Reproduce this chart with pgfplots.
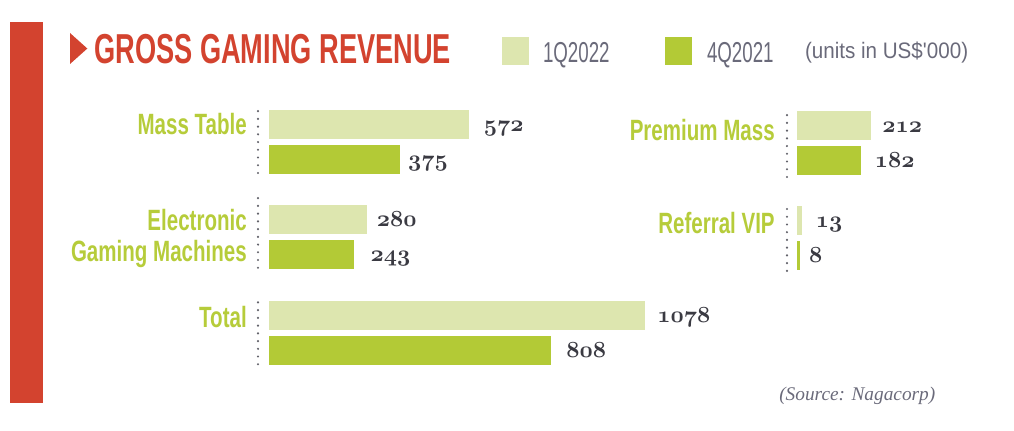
\documentclass[border=0pt]{standalone}
\usepackage{fontspec}
\usepackage{pgfplots}
\pgfplotsset{compat=1.18}
\newfontfamily\titlefont[FakeStretch=0.65]{Liberation Sans}
\newfontfamily\catfont[FakeStretch=0.70]{Liberation Sans}
\newfontfamily\legfont[FakeStretch=0.65]{Liberation Sans}
\newfontfamily\unitfont[FakeStretch=0.92]{Liberation Sans}
\newfontfamily\srcfont{Liberation Serif}
\definecolor{lightbar}{HTML}{DDE6AF}
\definecolor{darkbar}{HTML}{B3CA36}
\definecolor{catgreen}{HTML}{B6CC3A}
\definecolor{titlered}{HTML}{D3432F}
\definecolor{leggray}{HTML}{6A6A7A}
\definecolor{valgray}{HTML}{3A3A42}
\definecolor{dotgray}{HTML}{62626A}
\newcommand\osn[1]{{\usefont{OML}{cmm}{b}{it}#1}}
\pgfplotsset{
  grp/.style={
    x=0.26175pt, y=26.25pt,
    anchor=origin, clip=false,
    axis x line=none, axis y line*=left,
    y axis line style={-, draw=dotgray, line width=1.8pt, line cap=round, dash pattern=on 0pt off 5.8pt},
    xtick=\empty, major tick length=0pt, ytick style={draw=none},
    yticklabel style={font=\catfont\bfseries\fontsize{22}{23.25}\selectfont, text=catgreen, align=right, anchor=east, inner sep=0pt},
    bar width=21.75pt,
    point meta=explicit symbolic,
    nodes near coords={\osn{\pgfplotspointmeta}},
    every node near coord/.append style={anchor=base west, inner sep=0pt, text=valgray, font=\fontsize{16}{18}\selectfont, yshift=-5.1pt},
  },
  lgrp/.style={grp, xmin=-31.5, xmax=1200, yticklabel style={xshift=-8.25pt}},
  rgrp/.style={grp, xmin=-28.7, xmax=300, yticklabel style={xshift=-9pt}},
  b1/.style={xbar, bar shift=0pt, fill=lightbar, draw=none, every node near coord/.append style={xshift=#1}},
  b2/.style={xbar, bar shift=0pt, fill=darkbar, draw=none, every node near coord/.append style={xshift=#1}},
}
\begin{document}
\begin{tikzpicture}
\useasboundingbox (0pt,0pt) rectangle (760.5pt,-323.25pt);
% frame, title, legend
\fill[titlered] (7.5pt,-16.5pt) rectangle (32.6pt,-302.25pt);
\fill[titlered] (52.5pt,-24.75pt) -- (65.5pt,-36.4pt) -- (52.5pt,-48pt) -- cycle;
\node[anchor=base west, inner sep=0pt, text=titlered, font=\titlefont\bfseries\fontsize{31.4}{34}\selectfont] at (70.5pt,-48pt) {GROSS GAMING REVENUE};
\node[anchor=base west, inner sep=0pt, text=leggray, font=\srcfont\itshape\fontsize{14.5}{16}\selectfont] at (584.25pt,-300pt) {(Source: Nagacorp)};
\begin{axis}[at={(0pt,0pt)}, anchor=north west, x=0.75pt, y=0.75pt, y dir=reverse,
  xmin=0, xmax=1014, ymin=0, ymax=431, hide axis, clip=false,
  legend columns=3, legend cell align=left,
  legend style={at={(0.49507,0.8817)}, anchor=west, draw=none, fill=none, inner sep=0pt, outer sep=0pt,
    column sep=0pt, row sep=0pt, nodes={inner sep=0pt, outer sep=0pt}},
  legend image code/.code={\fill[#1, draw=none] (0pt,-10.5pt) rectangle (20.25pt,10.5pt);},
]
\addlegendimage{fill=lightbar, draw=none}
\addlegendentry{\hspace*{10.5pt}\smash{\raisebox{-9.2pt}{\makebox[91.5pt][l]{\color{leggray}\legfont\fontsize{21.6}{24}\selectfont 1Q2022}}}}
\addlegendimage{fill=darkbar, draw=none}
\addlegendentry{\hspace*{11.25pt}\smash{\raisebox{-9.2pt}{\makebox[73.5pt][l]{\color{leggray}\legfont\fontsize{21.6}{24}\selectfont 4Q2021}}}}
\addlegendimage{legend image code/.code={}}
\addlegendentry{\smash{\raisebox{-6.75pt}{\color{leggray}\unitfont\fontsize{16.8}{19}\selectfont (units in US\$'000)}}}
\end{axis}
% Mass Table
\begin{axis}[lgrp, at={(201.75pt,-119.6pt)}, ymin=-0.386, ymax=1.586, ytick={1.0}, yticklabels={Mass Table}]
\addplot[b1=11.25pt] coordinates {(572,1) [572]};
\addplot[b2=6pt] coordinates {(375,0) [375]};
\end{axis}
% Electronic Gaming Machines
\begin{axis}[lgrp, at={(201.75pt,-191.1pt)}, ymin=-0.37, ymax=1.65, ytick={0.47}, yticklabels={{Electronic\\Gaming Machines}}]
\addplot[b1=7.5pt] coordinates {(280,1) [280]};
\addplot[b2=12.5pt] coordinates {(243,0) [243]};
\end{axis}
% Total
\begin{axis}[lgrp, at={(201.75pt,-262.7pt)}, ymin=-0.4, ymax=1.53, ytick={0.95}, yticklabels={Total}]
\addplot[b1=9pt] coordinates {(1078,1) [1078]};
\addplot[b2=11.25pt] coordinates {(808,0) [808]};
\end{axis}
% Premium Mass
\begin{axis}[rgrp, at={(597.75pt,-120.4pt)}, ymin=-0.47, ymax=1.42, ytick={0.87}, yticklabels={Premium Mass}]
\addplot[b1=8.25pt] coordinates {(212,1) [212]};
\addplot[b2=10.5pt] coordinates {(182,0) [182]};
\end{axis}
% Referral VIP
\begin{axis}[rgrp, at={(597.75pt,-191.6pt)}, ymin=-0.44, ymax=1.47, ytick={0.93}, yticklabels={Referral VIP}]
\addplot[b1=10.5pt] coordinates {(13,1) [13]};
\addplot[b2=6.75pt] coordinates {(8,0) [8]};
\end{axis}
\end{tikzpicture}
\end{document}
